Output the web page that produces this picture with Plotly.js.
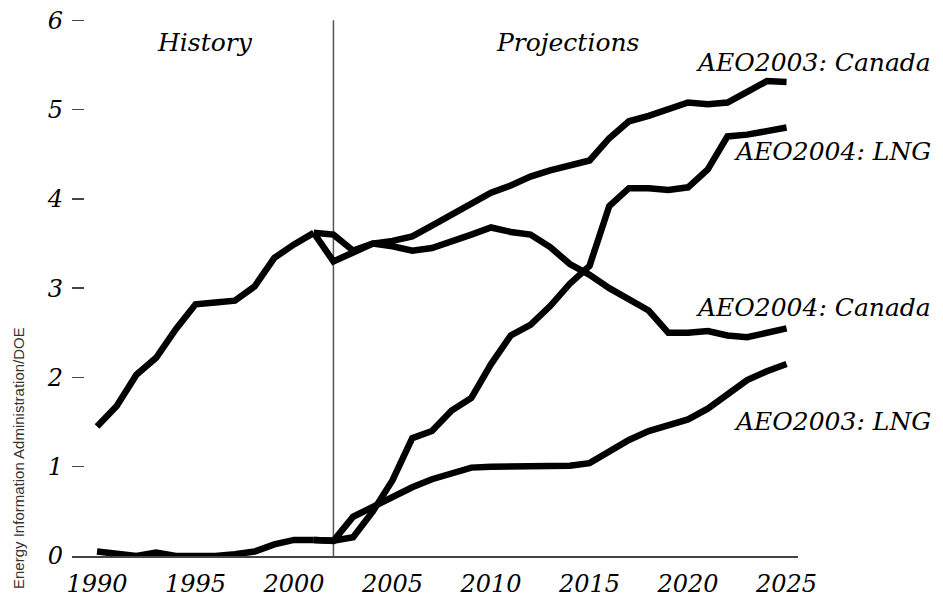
<!DOCTYPE html>
<html>
<head>
<meta charset="utf-8">
<script src="https://cdn.plot.ly/plotly-3.0.1.min.js"></script>
<style>html,body{margin:0;padding:0;background:#fff;}#chart{width:943px;height:598px;}</style>
</head>
<body>
<div id="chart"></div>
<script>
// History, 1990-2001
const histYears = [1990,1991,1992,1993,1994,1995,1996,1997,1998,1999,2000,2001];
const canadaHist = [1.45,1.68,2.03,2.22,2.54,2.82,2.84,2.86,3.02,3.34,3.49,3.62];
const lngHist    = [0.05,0.02,0.00,0.04,0.00,0.00,0.00,0.02,0.05,0.13,0.18,0.18];

// Projections, 2001-2025
const projYears = [2001,2002,2003,2004,2005,2006,2007,2008,2009,2010,2011,2012,2013,2014,2015,2016,2017,2018,2019,2020,2021,2022,2023,2024,2025];
const aeo2003Canada = [3.62,3.30,3.40,3.50,3.53,3.58,3.70,3.82,3.95,4.07,4.15,4.25,4.32,4.38,4.43,4.68,4.87,4.93,5.00,5.08,5.06,5.08,5.20,5.32,5.31];
const aeo2004Canada = [3.62,3.60,3.42,3.50,3.47,3.42,3.45,3.52,3.60,3.68,3.63,3.60,3.46,3.27,3.15,3.00,2.88,2.75,2.50,2.50,2.52,2.47,2.45,2.50,2.55];
const aeo2003LNG    = [0.18,0.17,0.44,0.55,0.67,0.77,0.86,0.93,0.99,1.00,1.00,1.00,1.00,1.01,1.04,1.17,1.30,1.40,1.47,1.53,1.65,1.82,1.97,2.07,2.15];
const aeo2004LNG    = [0.18,0.17,0.21,0.50,0.85,1.32,1.40,1.63,1.77,2.15,2.47,2.59,2.80,3.05,3.25,3.92,4.12,4.12,4.10,4.13,4.33,4.70,4.72,4.76,4.80];

const xTicks = [1990,1995,2000,2005,2010,2015,2020,2025];
const yTicks = [0,1,2,3,4,5,6];
const dividerYear = 2002;

const labels = [
  {text:'History', x:0.183, y:0.950, xanchor:'center'},
  {text:'Projections', x:0.682, y:0.950, xanchor:'center'},
  {text:'AEO2003: Canada', x:1.186, y:0.913, xanchor:'right'},
  {text:'AEO2004: LNG', x:1.186, y:0.747, xanchor:'right'},
  {text:'AEO2004: Canada', x:1.186, y:0.460, xanchor:'right'},
  {text:'AEO2003: LNG', x:1.186, y:0.248, xanchor:'right'}
];

const lineStyle = {color:'#000', width:6.5};
function tr(x, y){ return {x:x, y:y, type:'scatter', mode:'lines', line:lineStyle, hoverinfo:'skip', showlegend:false}; }

const data = [
  tr(histYears, canadaHist),
  tr(histYears, lngHist),
  tr(projYears, aeo2003Canada),
  tr(projYears, aeo2004Canada),
  tr(projYears, aeo2003LNG),
  tr(projYears, aeo2004LNG)
];

const serif = {family:'"DejaVu Serif", serif', size:24, color:'#000', style:'italic'};
const labelFont = {family:'"DejaVu Serif", serif', size:25, color:'#000', style:'italic'};

const annotations = labels.map(l => ({
  text:l.text, xref:'paper', yref:'paper', x:l.x, y:l.y, xanchor:l.xanchor, yanchor:'middle',
  showarrow:false, font:labelFont
}));
annotations.push({
  text:'Energy Information Administration/DOE', xref:'paper', yref:'paper',
  x:-0.0745, y:0.181, xanchor:'center', yanchor:'middle', textangle:-90, showarrow:false,
  font:{family:'"Liberation Sans", Arial, sans-serif', size:15, color:'#333'}
});

const layout = {
  width:943, height:598,
  margin:{l:72, r:145, t:15, b:42, pad:0},
  paper_bgcolor:'#fff', plot_bgcolor:'#fff',
  showlegend:false,
  xaxis:{
    range:[1988.73, 2025.58], tickvals:xTicks, ticktext:xTicks.map(String),
    ticks:'', showgrid:false, zeroline:false, showline:true, linecolor:'#444', linewidth:1.5,
    tickfont:serif, ticklabelstandoff:6, fixedrange:true
  },
  yaxis:{
    range:[0, 6.06], tickvals:yTicks, ticktext:yTicks.map(String),
    ticks:'inside', ticklen:12, tickwidth:1.5, tickcolor:'#444',
    showgrid:false, zeroline:false, showline:false,
    tickfont:serif, ticklabelstandoff:8, fixedrange:true
  },
  shapes:[{
    type:'line', xref:'x', yref:'y', x0:dividerYear, x1:dividerYear, y0:0, y1:6,
    line:{color:'#555', width:1.5}, layer:'below'
  }],
  annotations:annotations
};

Plotly.newPlot('chart', data, layout, {displayModeBar:false, staticPlot:true});
</script>
</body>
</html>
